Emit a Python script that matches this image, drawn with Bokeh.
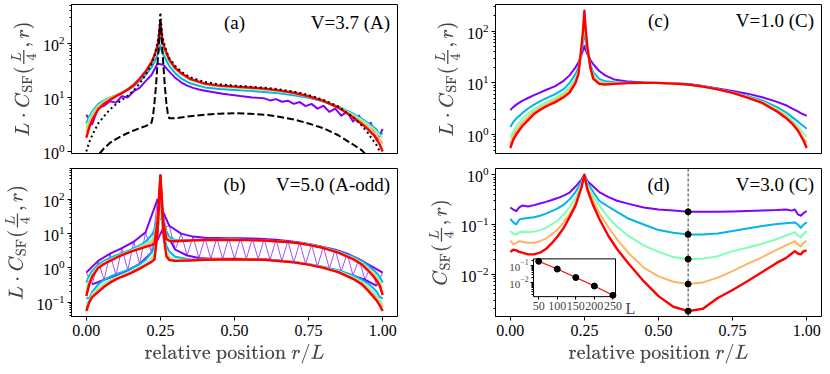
import math
from bokeh.plotting import figure
from bokeh.models import (Range1d, FixedTicker, LinearAxis, LogAxis, LogScale, LogTicker,
                          Label, Span, NumeralTickFormatter, CustomJSTickFormatter)
from bokeh.layouts import column, row
from bokeh.embed import file_html
from bokeh.resources import INLINE

# ---------------------------------------------------------------- data
SIZES = [50, 100, 150, 200, 250]
COLORS = ["#8000ff", "#00b4eb", "#80ffb4", "#ffb462", "#ff0000"]
XTICKS = [0.0, 0.25, 0.5, 0.75, 1.0]
X50 = [r / 50 for r in range(51)]

# panel (a)  V=3.7 (A)
XA = [0, 0.01, 0.02, 0.04, 0.06, 0.08, 0.1, 0.12, 0.14, 0.16, 0.18, 0.2, 0.22, 0.23, 0.24, 0.245,
      0.25, 0.255, 0.26, 0.27, 0.28, 0.3, 0.32, 0.35, 0.4, 0.45, 0.5, 0.55, 0.6, 0.65, 0.7, 0.75,
      0.8, 0.85, 0.9, 0.93, 0.95, 0.97, 0.98, 0.99, 1.0]
A_L50 = [4.8, 3.2, 6.5, 7.0, 8.5, 8.0, 10.5, 10.0, 13, 15, 20, 26, 42, 40, 30, 23, 19, 16.5, 15, 14,
         13.3, 12.7, 12.2, 11.7, 11.3, 11, 10.6, 10.3, 10.0, 9.8, 9.6, 8.8, 9.3, 8.3, 8.7, 7.6, 8.2,
         6.9, 7.6, 6.2, 7.0, 5.4, 6.2, 4.6, 5.4, 3.6, 4.6, 2.9, 3.4, 1.6, 2.6]
A_L100 = [3.3, 4.5, 5.5, 7.5, 8.8, 10, 11, 12.2, 13.8, 16, 20, 26, 36, 45, 60, 72, 92, 72, 62, 48, 38,
          28, 22.5, 18.2, 15.3, 14.3, 13.7, 13.2, 12.6, 11.9, 11.0, 9.8, 8.4, 6.8, 5.0, 4.0, 3.4, 2.8,
          2.5, 2.0, 2.2]
A_L150 = [2.7, 4.0, 5.0, 7.0, 8.5, 9.8, 11, 12.4, 14.2, 17, 21.5, 29, 42, 55, 78, 105, 175, 105, 82,
          60, 45, 33, 26.5, 21, 17.2, 15.8, 15.1, 14.5, 13.8, 12.9, 11.8, 10.3, 8.6, 6.7, 4.8, 3.8,
          3.2, 2.6, 2.3, 2.0, 1.8]
A_L200 = [2.3, 3.4, 4.5, 6.6, 8.2, 9.6, 10.9, 12.3, 14.2, 17, 22, 30, 44, 58, 86, 120, 215, 120, 90,
          65, 48, 34, 27.5, 21.5, 17.6, 16.2, 15.5, 14.9, 14.2, 13.2, 12.0, 10.4, 8.6, 6.6, 4.5, 3.5,
          2.9, 2.3, 2.0, 1.7, 1.4]
A_L250 = [1.8, 2.8, 3.8, 6.0, 7.6, 9.0, 10.5, 12, 14, 17, 22, 30, 45, 60, 90, 130, 250, 130, 95, 68,
          50, 35, 28, 22, 18, 16.5, 15.8, 15.2, 14.5, 13.5, 12.2, 10.5, 8.6, 6.5, 4.3, 3.2, 2.6, 2.0,
          1.7, 1.35, 1.0]
A_DOTTED = [1.0, 1.5, 2.0, 3.3, 4.5, 6.0, 7.5, 9.0, 10.8, 13.5, 18, 26, 41, 58, 100, 150, 370, 160,
            110, 72, 53, 38, 30, 23.5, 19.2, 17.4, 16.5, 15.8, 15.1, 14.1, 12.8, 11.1, 9.0, 6.8, 4.3,
            3.0, 2.2, 1.55, 1.3, 1.0, 0.7]
XA_DASH = [0.045, 0.06, 0.08, 0.1, 0.12, 0.14, 0.16, 0.18, 0.2, 0.22, 0.225, 0.23, 0.235, 0.24, 0.245,
           0.25, 0.255, 0.26, 0.265, 0.27, 0.275, 0.28, 0.3, 0.35, 0.4, 0.45, 0.5, 0.55, 0.6, 0.65,
           0.7, 0.75, 0.8, 0.85, 0.9, 0.93, 0.95]
A_DASHED = [0.92, 1.15, 1.45, 1.7, 1.95, 2.2, 2.45, 2.7, 2.95, 3.4, 4.5, 8, 16, 40, 100, 260, 100, 40,
            16, 8, 5, 4.1, 4.1, 4.5, 4.8, 5.0, 5.1, 5.0, 4.8, 4.4, 3.9, 3.3, 2.7, 2.0, 1.35, 1.05, 0.8]

# panel (b)  V=5.0 (A-odd): upper / lower branches
XB = [0, 0.01, 0.02, 0.04, 0.06, 0.08, 0.1, 0.12, 0.15, 0.18, 0.2, 0.22, 0.23, 0.24, 0.245, 0.25,
      0.255, 0.26, 0.27, 0.28, 0.3, 0.35, 0.4, 0.5, 0.6, 0.7, 0.75, 0.8, 0.85, 0.9, 0.93, 0.95, 0.97,
      0.98, 0.99, 1.0]
B_L50 = [0.73, 0.33, 1.6, 0.45, 2.6, 0.6, 3.8, 0.85, 5.8, 1.3, 11, 2.8, 100, 15, 17, 3.4, 10, 2.3,
         8.2, 1.95, 7.6, 1.85, 7.5, 1.85, 7.4, 1.85, 7.4, 1.83, 7.2, 1.8, 7.0, 1.72, 6.6, 1.6, 6.1,
         1.45, 5.5, 1.3, 4.8, 1.12, 4.1, 0.95, 3.4, 0.78, 2.6, 0.6, 1.8, 0.45, 1.15, 0.3, 0.73]
B_L100_UP = [0.37, 0.6, 0.82, 1.25, 1.6, 1.95, 2.3, 2.7, 3.4, 4.5, 5.8, 9, 13, 30, 45, 50, 45, 30, 12,
             8, 6.5, 6.5, 6.6, 6.7, 6.4, 5.6, 4.9, 4.0, 3.0, 2.1, 1.55, 1.2, 0.85, 0.7, 0.55, 0.37]
B_L100_LO = [0.13, 0.13, 0.2, 0.33, 0.45, 0.55, 0.65, 0.75, 0.95, 1.3, 1.7, 2.8, 4.5, 12, 25, 28, 25,
             12, 4.5, 3, 2.1, 1.75, 1.75, 1.8, 1.75, 1.5, 1.3, 1.08, 0.85, 0.6, 0.45, 0.35, 0.25, 0.2,
             0.14, 0.13]
B_L150_UP = [0.25, 0.47, 0.68, 1.1, 1.45, 1.75, 2.1, 2.5, 3.2, 4.1, 5.0, 6.5, 9, 25, 70, 250, 70, 25, 9,
             6.8, 6.2, 6.4, 6.55, 6.65, 6.35, 5.55, 4.8, 3.9, 2.9, 1.95, 1.4, 1.0, 0.7, 0.55, 0.42, 0.25]
B_L150_LO = [0.09, 0.11, 0.17, 0.26, 0.35, 0.44, 0.53, 0.62, 0.78, 1.05, 1.35, 1.9, 2.8, 10, 25, 45, 25,
             10, 3, 2.1, 1.75, 1.7, 1.73, 1.79, 1.73, 1.47, 1.27, 1.03, 0.8, 0.54, 0.39, 0.28, 0.19,
             0.15, 0.11, 0.09]
B_L200_UP = [0.19, 0.38, 0.6, 1.05, 1.38, 1.68, 2.02, 2.4, 3.05, 3.8, 4.5, 5.6, 7.5, 22, 80, 350, 80,
             22, 8, 6.3, 6.1, 6.35, 6.5, 6.6, 6.3, 5.5, 4.75, 3.85, 2.85, 1.85, 1.3, 0.92, 0.62, 0.48,
             0.35, 0.19]
B_L200_LO = [0.07, 0.1, 0.15, 0.22, 0.3, 0.39, 0.48, 0.56, 0.7, 0.93, 1.18, 1.5, 2.1, 9, 40, 120, 40, 9,
             2.5, 1.8, 1.62, 1.67, 1.72, 1.78, 1.72, 1.45, 1.25, 1.01, 0.77, 0.5, 0.35, 0.24, 0.16,
             0.12, 0.09, 0.07]
B_L250_UP = [0.15, 0.33, 0.55, 1.0, 1.3, 1.6, 1.95, 2.35, 3.0, 3.6, 4.1, 4.6, 5.0, 22, 100, 500, 100,
             22, 7, 6.2, 6.0, 6.3, 6.5, 6.6, 6.3, 5.5, 4.7, 3.8, 2.8, 1.8, 1.25, 0.85, 0.55, 0.42, 0.3,
             0.16]
B_L250_LO = [0.055, 0.1, 0.14, 0.2, 0.28, 0.37, 0.46, 0.55, 0.7, 0.95, 1.2, 1.5, 1.75, 10, 70, 500, 70,
             10, 2.2, 1.7, 1.6, 1.65, 1.72, 1.78, 1.72, 1.45, 1.25, 1.0, 0.75, 0.48, 0.33, 0.22, 0.14,
             0.11, 0.08, 0.055]

# panel (c)  V=1.0 (C)
XC = [0, 0.01, 0.02, 0.04, 0.06, 0.08, 0.1, 0.12, 0.15, 0.18, 0.2, 0.22, 0.23, 0.24, 0.245, 0.25,
      0.255, 0.26, 0.27, 0.28, 0.3, 0.32, 0.35, 0.4, 0.45, 0.5, 0.55, 0.6, 0.65, 0.7, 0.75, 0.8, 0.85,
      0.9, 0.93, 0.95, 0.97, 0.98, 0.99, 1.0]
C_L50 = [3.0, 3.4, 3.8, 4.5, 5.1, 5.8, 6.5, 7.3, 8.6, 11, 14, 20, 25, 35, 42, 52, 42, 36, 28, 23, 17,
         14, 11.7, 10.6, 10.2, 10, 9.8, 9.5, 8.7, 7.8, 7.0, 6.2, 5.3, 4.3, 3.7, 3.2, 2.8, 2.6, 2.45, 2.3]
C_L100 = [1.4, 1.75, 2.05, 2.6, 3.2, 3.8, 4.4, 5.0, 6.0, 7.6, 10, 15, 20, 40, 60, 100, 60, 40, 23, 16,
          12, 10.8, 10.3, 10.2, 10.1, 10, 9.7, 9.4, 8.6, 7.6, 6.6, 5.6, 4.6, 3.4, 2.7, 2.2, 1.8, 1.6,
          1.45, 1.3]
C_L150 = [0.85, 1.15, 1.45, 2.0, 2.55, 3.1, 3.65, 4.2, 5.0, 6.4, 8.3, 12.5, 17, 45, 75, 150, 75, 45, 21,
          14.5, 10.8, 10, 9.9, 10, 10, 10, 9.7, 9.35, 8.5, 7.5, 6.5, 5.4, 4.3, 3.1, 2.4, 1.9, 1.45, 1.2,
          1.05, 0.9]
C_L200 = [0.65, 0.95, 1.2, 1.7, 2.2, 2.75, 3.3, 3.8, 4.6, 5.8, 7.3, 11, 16, 48, 85, 200, 85, 48, 19, 13,
          10.1, 9.6, 9.7, 9.95, 10, 10, 9.7, 9.3, 8.5, 7.5, 6.45, 5.3, 4.2, 2.95, 2.25, 1.75, 1.3, 1.05,
          0.85, 0.7]
C_L250 = [0.55, 0.8, 1.0, 1.45, 1.9, 2.5, 3.0, 3.5, 4.2, 5.3, 6.5, 10, 15, 50, 100, 250, 100, 50, 20,
          12, 9.6, 9.3, 9.6, 9.9, 10, 10, 9.7, 9.3, 8.5, 7.5, 6.4, 5.2, 4.1, 2.8, 2.1, 1.65, 1.2, 0.95,
          0.75, 0.55]

# panel (d)  V=3.0 (C)
XD = [0, 0.01, 0.02, 0.03, 0.04, 0.06, 0.08, 0.1, 0.12, 0.14, 0.16, 0.18, 0.2, 0.22, 0.24, 0.25,
      0.26, 0.28, 0.3, 0.33, 0.36, 0.4, 0.45, 0.5, 0.55, 0.6, 0.65, 0.7, 0.75, 0.8, 0.85, 0.9, 0.93,
      0.95, 0.96, 0.97, 0.98, 0.99, 1.0]
D_L50 = [0.22, 0.2, 0.185, 0.22, 0.24, 0.23, 0.245, 0.265, 0.285, 0.31, 0.34, 0.38, 0.44, 0.58, 0.8,
         1.0, 0.75, 0.58, 0.45, 0.36, 0.3, 0.26, 0.22, 0.2, 0.19, 0.18, 0.18, 0.18, 0.183, 0.186, 0.19,
         0.195, 0.2, 0.19, 0.2, 0.16, 0.15, 0.17, 0.187]
D_L100 = [0.13, 0.11, 0.1, 0.125, 0.13, 0.135, 0.14, 0.15, 0.165, 0.185, 0.21, 0.25, 0.32, 0.45, 0.72,
          1.0, 0.7, 0.45, 0.3, 0.23, 0.18, 0.13, 0.1, 0.077, 0.068, 0.063, 0.063, 0.066, 0.074, 0.083,
          0.093, 0.102, 0.106, 0.108, 0.11, 0.1, 0.085, 0.1, 0.11]
D_L150 = [0.074, 0.065, 0.062, 0.07, 0.071, 0.07, 0.072, 0.076, 0.085, 0.1, 0.12, 0.16, 0.22, 0.34,
          0.65, 1.0, 0.62, 0.37, 0.24, 0.14, 0.09, 0.058, 0.038, 0.028, 0.022, 0.020, 0.0205, 0.023,
          0.029, 0.034, 0.041, 0.051, 0.06, 0.066, 0.07, 0.06, 0.055, 0.065, 0.074]
D_L200 = [0.047, 0.04, 0.042, 0.046, 0.045, 0.043, 0.043, 0.046, 0.052, 0.063, 0.08, 0.11, 0.16, 0.27,
          0.6, 1.0, 0.55, 0.3, 0.17, 0.09, 0.05, 0.026, 0.0135, 0.009, 0.007, 0.0063, 0.0068, 0.0085,
          0.0115, 0.016, 0.022, 0.031, 0.038, 0.043, 0.046, 0.04, 0.036, 0.043, 0.047]
D_L250 = [0.028, 0.031, 0.03, 0.028, 0.027, 0.025, 0.025, 0.027, 0.032, 0.042, 0.058, 0.085, 0.14,
          0.24, 0.55, 1.0, 0.5, 0.24, 0.13, 0.06, 0.032, 0.016, 0.0072, 0.0036, 0.0022, 0.0018, 0.002,
          0.0033, 0.0048, 0.0072, 0.011, 0.017, 0.021, 0.026, 0.029, 0.026, 0.025, 0.029, 0.03]
R_MID = 0.6
C_MID = [0.18, 0.063, 0.020, 0.0063, 0.0018]   # value at r/L = 0.6 for each L

# ---------------------------------------------------------------- styling / geometry
SERIF = "Liberation Serif"
XLIM = (-0.05, 1.05)
YLIM_A = (0.92, 520)
YLIM_B = (0.038, 800)
YLIM_C = (0.43, 330)
YLIM_D = (0.0014, 1.34)
INSET_XLIM = (36, 257)
INSET_YLIM = (0.0015, 0.25)

L_MBL, L_MBR = 71, 4
R_MBL, R_MBR = 94, 1
LW = L_MBL + 326 + L_MBR          # 401
RW = R_MBL + 326 + R_MBR          # 421
T_MBT, T_MBB = 4, 11
B_MBT, B_MBB = 4, 49
TH = T_MBT + 149 + T_MBB          # 164
BH = B_MBT + 149 + B_MBB          # 202

YLAB_LC = r"$$\textstyle L\cdot C_{\mathrm{SF}}(\frac{L}{4},r)$$"
YLAB_C = r"$$\textstyle C_{\mathrm{SF}}(\frac{L}{4},r)$$"
XLAB = r"$$\text{relative position }r/L$$"


def make_panel(w, h, mbl, mbr, mbt, mbb, ylim, bottom, ylabel):
    p = figure(width=w, height=h, x_range=Range1d(*XLIM), y_range=Range1d(*ylim),
               y_axis_type="log", x_axis_location="below" if bottom else None,
               output_backend="svg", toolbar_location=None,
               min_border_left=mbl, min_border_right=mbr,
               min_border_top=mbt, min_border_bottom=mbb)
    p.grid.visible = False
    p.outline_line_color = "black"
    p.outline_line_alpha = 1.0
    p.outline_line_width = 1
    p.background_fill_color = "white"
    p.border_fill_color = "white"
    if bottom:
        ax = p.xaxis[0]
        ax.formatter = NumeralTickFormatter(format="0.00")
        ax.axis_label = XLAB
        ax.axis_label_text_font_size = "17px"
        ax.axis_label_standoff = 5
    else:
        ax = LinearAxis(fixed_location=ylim[0],
                        formatter=CustomJSTickFormatter(code="return ''"))
        p.add_layout(ax, "below")
    ax.ticker = FixedTicker(ticks=XTICKS)
    ax.major_tick_out = 4
    ax.major_tick_in = 0
    ax.minor_tick_line_color = None
    ax.major_label_standoff = 4
    ax.major_label_text_font = SERIF
    ax.major_label_text_font_size = "16px"
    ax.major_label_text_color = "black"
    ax.axis_line_color = "black"
    ax.major_tick_line_color = "black"

    yax = p.yaxis[0]
    yax.ticker = LogTicker(num_minor_ticks=10)
    yax.major_tick_out = 4
    yax.major_tick_in = 0
    yax.minor_tick_out = 2
    yax.minor_tick_in = 0
    yax.major_label_standoff = 3
    yax.major_label_text_font = SERIF
    yax.major_label_text_font_size = "16px"
    yax.major_label_text_color = "black"
    yax.axis_label = ylabel
    yax.axis_label_text_font_size = "17px"
    yax.axis_label_standoff = 4
    yax.axis_line_color = "black"
    yax.major_tick_line_color = "black"
    yax.minor_tick_line_color = "black"
    return p


def add_tags(p, tag, title, ytext):
    p.add_layout(Label(x=0.5, y=ytext, text=tag, text_align="center", text_baseline="middle",
                       text_font=SERIF, text_font_size="19px", text_color="black"))
    p.add_layout(Label(x=1.025, y=ytext, text=title, text_align="right", text_baseline="middle",
                       text_font=SERIF, text_font_size="19px", text_color="black"))


def lw(i):
    return 2.4 if i == 4 else 2.0


# ---------------- (a)
pa = make_panel(LW, TH, L_MBL, L_MBR, T_MBT, T_MBB, YLIM_A, False, YLAB_LC)
pa.line(X50, A_L50, line_color=COLORS[0], line_width=lw(0), line_join="round")
for i, ys in enumerate([A_L100, A_L150, A_L200, A_L250], start=1):
    pa.line(XA, ys, line_color=COLORS[i], line_width=lw(i), line_join="round")
pa.line(XA_DASH, A_DASHED, line_color="black", line_width=2, line_dash="7 3")
pa.line(XA, A_DOTTED, line_color="black", line_width=2, line_dash="2 3")
add_tags(pa, "(a)", "V=3.7 (A)", 240)

# ---------------- (b)
pb = make_panel(LW, BH, L_MBL, L_MBR, B_MBT, B_MBB, YLIM_B, True, YLAB_LC)
pb.line(X50, B_L50, line_color=COLORS[0], line_width=0.7)
pb.line(X50[0::2], B_L50[0::2], line_color=COLORS[0], line_width=lw(0), line_join="round")
pb.line(X50[1::2], B_L50[1::2], line_color=COLORS[0], line_width=lw(0), line_join="round")
for i, (up, lo) in enumerate([(B_L100_UP, B_L100_LO), (B_L150_UP, B_L150_LO),
                              (B_L200_UP, B_L200_LO), (B_L250_UP, B_L250_LO)], start=1):
    pb.line(XB, up, line_color=COLORS[i], line_width=lw(i), line_join="round")
    pb.line(XB, lo, line_color=COLORS[i], line_width=lw(i), line_join="round")
add_tags(pb, "(b)", "V=5.0 (A-odd)", 270)

# ---------------- (c)
pc = make_panel(RW, TH, R_MBL, R_MBR, T_MBT, T_MBB, YLIM_C, False, YLAB_LC)
for i, ys in enumerate([C_L50, C_L100, C_L150, C_L200, C_L250]):
    pc.line(XC, ys, line_color=COLORS[i], line_width=lw(i), line_join="round")
add_tags(pc, "(c)", "V=1.0 (C)", 160)

# ---------------- (d)
pd = make_panel(RW, BH, R_MBL, R_MBR, B_MBT, B_MBB, YLIM_D, True, YLAB_C)
pd.add_layout(Span(location=R_MID, dimension="height", line_color="black", line_width=0.8,
                   line_dash="3 2", level="underlay"))
for i, ys in enumerate([D_L50, D_L100, D_L150, D_L200, D_L250]):
    pd.line(XD, ys, line_color=COLORS[i], line_width=lw(i), line_join="round")
pd.scatter([R_MID] * len(C_MID), C_MID, size=6, fill_color="black", line_color="black")
add_tags(pd, "(d)", "V=3.0 (C)", 0.64)

# inset inside (d): its own coordinate system mapped onto part of the frame
f_left = LW + R_MBL
f_right = LW + RW - R_MBR
f_top = TH + B_MBT
f_bottom = TH + BH - B_MBB
i_left, i_right, i_top, i_bottom = 533, 615, 259, 297
ux = (i_right - i_left) / (INSET_XLIM[1] - INSET_XLIM[0])
ix0 = INSET_XLIM[0] - (i_left - f_left) / ux
ix1 = INSET_XLIM[1] + (f_right - i_right) / ux
ly0, ly1 = math.log10(INSET_YLIM[0]), math.log10(INSET_YLIM[1])
uy = (i_bottom - i_top) / (ly1 - ly0)
iy1 = 10 ** (ly1 + (i_top - f_top) / uy)
iy0 = 10 ** (ly0 - (f_bottom - i_bottom) / uy)
pd.extra_x_ranges = {"ix": Range1d(ix0, ix1)}
pd.extra_y_ranges = {"iy": Range1d(iy0, iy1)}
pd.extra_y_scales = {"iy": LogScale()}

pd.quad(left=[INSET_XLIM[0]], right=[INSET_XLIM[1]], bottom=[INSET_YLIM[0]], top=[INSET_YLIM[1]],
        x_range_name="ix", y_range_name="iy", fill_color="white", line_color="black", line_width=1)
pd.line(SIZES, C_MID, x_range_name="ix", y_range_name="iy", line_color="red", line_width=1.2)
pd.scatter(SIZES, C_MID, x_range_name="ix", y_range_name="iy", size=6,
           fill_color="black", line_color="black")

iax = LinearAxis(x_range_name="ix", y_range_name="iy", fixed_location=INSET_YLIM[0],
                 ticker=FixedTicker(ticks=SIZES))
iax.axis_line_color = None
iax.major_tick_out = 3
iax.major_tick_in = 0
iax.minor_tick_line_color = None
iax.major_label_standoff = 2
iax.major_label_text_font = SERIF
iax.major_label_text_font_size = "12px"
pd.add_layout(iax, "below")

minor = [m * 10.0 ** e for e in (-3, -2, -1) for m in range(2, 10)
         if INSET_YLIM[0] <= m * 10.0 ** e <= INSET_YLIM[1]]
iyax = LogAxis(x_range_name="ix", y_range_name="iy", fixed_location=INSET_XLIM[0],
               ticker=FixedTicker(ticks=[0.1, 0.01], minor_ticks=minor))
iyax.axis_line_color = None
iyax.major_tick_out = 3
iyax.major_tick_in = 0
iyax.minor_tick_out = 2
iyax.minor_tick_in = 0
iyax.major_label_standoff = 2
iyax.major_label_text_font = SERIF
iyax.major_label_text_font_size = "11px"
pd.add_layout(iyax, "left")

pd.add_layout(Label(x=INSET_XLIM[1], y=INSET_YLIM[0], x_range_name="ix", y_range_name="iy",
                    text="L", x_offset=15, y_offset=-12, text_align="center",
                    text_baseline="middle", text_font=SERIF, text_font_size="16px"))

layout = column(row(pa, pc), row(pb, pd))
open("out.html", "w").write(file_html(layout, INLINE))
